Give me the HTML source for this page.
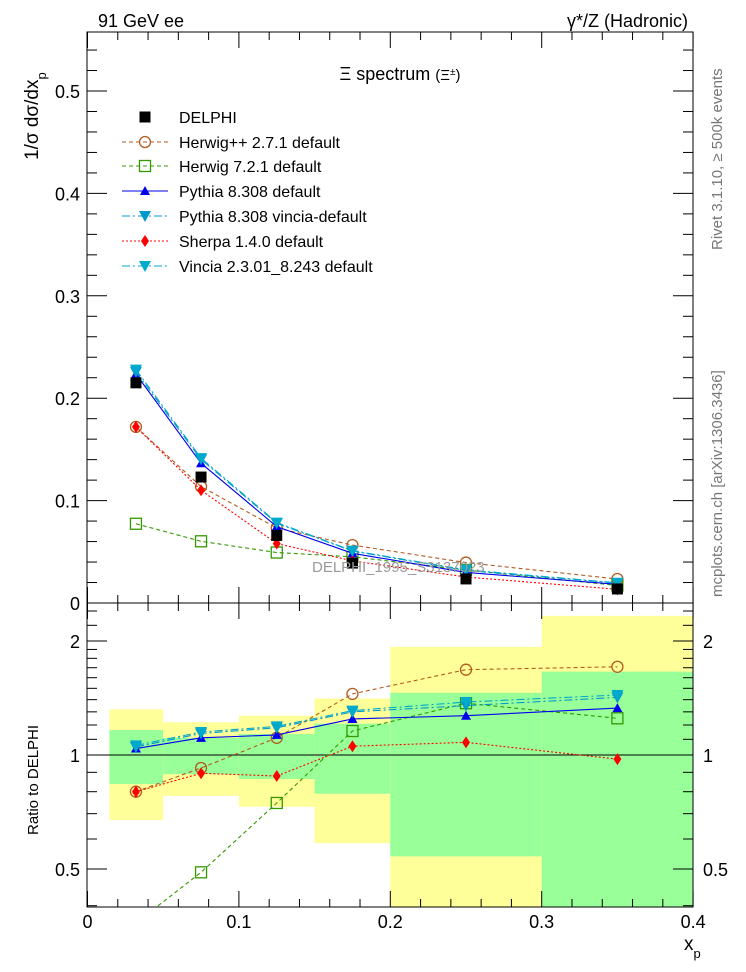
<!DOCTYPE html>
<html><head><meta charset="utf-8"><style>
html,body{margin:0;padding:0;background:#fff;}
svg{display:block;font-family:"Liberation Sans",sans-serif;}
</style></head><body>
<svg id="chart" width="746" height="972" viewBox="0 0 746 972" xmlns="http://www.w3.org/2000/svg">
<g id="bands"></g>
<g id="ratio"></g>
<g id="main"></g>
<g id="axes"></g>
<text x="98" y="27" font-size="18">91 GeV ee</text>
<text x="688" y="27" font-size="18" text-anchor="end">γ*/Z (Hadronic)</text>
<text x="400" y="80" font-size="18" text-anchor="middle">Ξ spectrum <tspan font-size="15">(Ξ<tspan baseline-shift="super" font-size="10">±</tspan>)</tspan></text>
<text transform="translate(38,160) rotate(-90)" font-size="19">1/σ dσ/dx<tspan baseline-shift="sub" font-size="13">p</tspan></text>
<text transform="translate(38,835) rotate(-90)" font-size="15">Ratio to DELPHI</text>
<text x="684" y="950" font-size="19">x<tspan baseline-shift="sub" font-size="13">p</tspan></text>
<text transform="translate(722,250) rotate(-90)" font-size="15" fill="#777">Rivet 3.1.10, ≥ 500k events</text>
<text transform="translate(722,597) rotate(-90)" font-size="15" fill="#777">mcplots.cern.ch [arXiv:1306.3436]</text>
<text x="312" y="572" font-size="15" fill="#999">DELPHI_1995_S3137023</text>
<g id="legend"></g>
</svg>
<script>
const xCenters=[0.032,0.075,0.125,0.175,0.25,0.35];
const binEdges=[0.0145,0.05,0.1,0.15,0.2,0.3,0.4];
const delphi=[0.215,0.123,0.066,0.039,0.0235,0.0137];
const bandGreenUp=[1.164,1.11,1.136,1.21,1.46,1.66];
const bandGreenDn=[0.838,0.89,0.864,0.79,0.54,0.3];
const bandYellowUp=[1.32,1.22,1.27,1.41,1.93,2.33];
const bandYellowDn=[0.673,0.78,0.73,0.585,0.3,0.3];
const rHerwigPP=[0.80,0.924,1.11,1.45,1.68,1.71];
const rHerwig7=[0.36,0.49,0.747,1.157,1.37,1.25];
const rPythia=[1.04,1.11,1.13,1.245,1.27,1.33];
const rPythiaVincia=[1.05,1.14,1.18,1.30,1.35,1.42];
const rSherpa=[0.80,0.895,0.88,1.055,1.08,0.975];
const rVincia=[1.06,1.15,1.19,1.31,1.38,1.44];
const xTicks=[0,0.1,0.2,0.3,0.4];
const yTicks=[0,0.1,0.2,0.3,0.4,0.5];
const rTicks=[0.5,1,2];

const NS="http://www.w3.org/2000/svg";
const X=v=>87.5+v*1514;
const Y=v=>603-v*1024;
const R=v=>755-114*Math.log2(v);
function mk(tag,attrs,parent){const e=document.createElementNS(NS,tag);for(const k in attrs)e.setAttribute(k,attrs[k]);parent.appendChild(e);return e;}
const gB=document.getElementById('bands'),gR=document.getElementById('ratio'),gM=document.getElementById('main'),gA=document.getElementById('axes'),gL=document.getElementById('legend');
// clip for ratio
const defs=mk('defs',{},document.getElementById('chart'));
const cp=mk('clipPath',{id:'rc'},defs);mk('rect',{x:87,y:603,width:606,height:304},cp);
const cm=mk('clipPath',{id:'mc'},defs);mk('rect',{x:87,y:32,width:606,height:571},cm);
gB.setAttribute('clip-path','url(#rc)');gR.setAttribute('clip-path','url(#rc)');gM.setAttribute('clip-path','url(#mc)');
for(let i=0;i<xCenters.length;i++){
  const x0=X(binEdges[i]),x1=X(binEdges[i+1]);
  const y=mk('rect',{x:x0,y:R(bandYellowUp[i]),width:x1-x0,height:R(bandYellowDn[i])-R(bandYellowUp[i]),fill:'#ffff99'},gB);
  
  
  const g=mk('rect',{x:x0,y:R(bandGreenUp[i]),width:x1-x0,height:R(bandGreenDn[i])-R(bandGreenUp[i]),fill:'#99ff99'},gB);
  
  
}
const l1=mk('line',{x1:87,x2:693,y1:R(1),y2:R(1),stroke:'#000','stroke-width':1},gR);



function marker(type,cx,cy,color,parent){
  let e;
  if(type==='sq')e=mk('rect',{x:cx-5.5,y:cy-5.5,width:11,height:11,fill:'#000'},parent);
  else if(type==='circ')e=mk('circle',{cx:cx,cy:cy,r:5.5,fill:'none',stroke:color,'stroke-width':1.3},parent);
  else if(type==='osq')e=mk('rect',{x:cx-5.5,y:cy-5.5,width:11,height:11,fill:'none',stroke:color,'stroke-width':1.3},parent);
  else if(type==='up')e=mk('polygon',{points:`${cx-5},${cy+4} ${cx+5},${cy+4} ${cx},${cy-5}`,fill:color},parent);
  else if(type==='down')e=mk('polygon',{points:`${cx-6},${cy-5} ${cx+6},${cy-5} ${cx},${cy+6}`,fill:color},parent);
  else if(type==='dia')e=mk('polygon',{points:`${cx},${cy-6} ${cx+4},${cy} ${cx},${cy+6} ${cx-4},${cy}`,fill:color},parent);
  return e;
}
const series=[
 {name:'herwigpp',label:'Herwig++ 2.7.1 default',r:rHerwigPP,color:'#b35a1f',dash:'4,3',m:'circ'},
 {name:'herwig7',label:'Herwig 7.2.1 default',r:rHerwig7,color:'#339900',dash:'4,3',m:'osq'},
 {name:'pythia',label:'Pythia 8.308 default',r:rPythia,color:'#0000ee',dash:'',m:'up'},
 {name:'pythia-vincia',label:'Pythia 8.308 vincia-default',r:rPythiaVincia,color:'#0099cc',dash:'8,3,2,3',m:'down'},
 {name:'sherpa',label:'Sherpa 1.4.0 default',r:rSherpa,color:'#ff0000',dash:'2,2',m:'dia'},
 {name:'vincia',label:'Vincia 2.3.01_8.243 default',r:rVincia,color:'#00aacc',dash:'8,3,2,3',m:'down'}
];
series.forEach(s=>{
  const mainPts=s.r.map((r,i)=>[X(xCenters[i]),Y(r*delphi[i])]);
  const ratPts=s.r.map((r,i)=>[X(xCenters[i]),R(r)]);
  [[mainPts,gM,'main'],[ratPts,gR,'ratio']].forEach(([pts,par,tag])=>{
    const pl=mk('polyline',{points:pts.map(p=>p.join(',')).join(' '),fill:'none',stroke:s.color,'stroke-width':1.1,'stroke-dasharray':s.dash},par);
    
    
    pts.forEach(p=>{const e=marker(s.m,p[0],p[1],s.color,par);
      
      });
  });
});
delphi.forEach((v,i)=>{const e=marker('sq',X(xCenters[i]),Y(v),'#000',gM);
  
  });

// frames
const f1=mk('rect',{x:87,y:32,width:606,height:571,fill:'none',stroke:'#000','stroke-width':1},gA);


const f2=mk('rect',{x:87,y:603,width:606,height:304,fill:'none',stroke:'#000','stroke-width':1},gA);


// x ticks
for(let k=0;k<=20;k++){
  const v=k*0.02,x=X(v),maj=(k%5===0);
  const L=maj?16:8;
  [[603,-1],[907,-1],[32,1],[603,1]].forEach(([y0,d])=>mk('line',{x1:x,x2:x,y1:y0,y2:y0+d*L,stroke:'#000'},gA));
}
xTicks.forEach(v=>{const t=mk('text',{x:X(v),y:928,'font-size':18,'text-anchor':'middle'},gA);t.textContent=String(v);
  
  });
// main y ticks
for(let k=0;k<=28;k++){
  const v=k*0.02,y=Y(v);if(y<32)break;const maj=(k%5===0);const L=maj?20:10;
  mk('line',{x1:87,x2:87+L,y1:y,y2:y,stroke:'#000'},gA);
  mk('line',{x1:693,x2:693-L,y1:y,y2:y,stroke:'#000'},gA);
}
yTicks.forEach(v=>{const t=mk('text',{x:80,y:Y(v)+7,'font-size':18,'text-anchor':'end'},gA);t.textContent=String(v);
  
  });
// ratio ticks
[0.4,0.5,0.6,0.7,0.8,0.9,1,1.1,1.2,1.3,1.4,1.5,1.6,1.7,1.8,1.9,2,2.2,2.4].forEach(v=>{
  const y=R(v);if(y<603||y>907)return;const maj=rTicks.includes(v);const L=maj?20:10;
  mk('line',{x1:87,x2:87+L,y1:y,y2:y,stroke:'#000'},gA);
  mk('line',{x1:693,x2:693-L,y1:y,y2:y,stroke:'#000'},gA);
});
rTicks.forEach(v=>{
  const t=mk('text',{x:80,y:R(v)+7,'font-size':18,'text-anchor':'end'},gA);t.textContent=String(v);
  
  
  const t2=mk('text',{x:703,y:R(v)+7,'font-size':18},gA);t2.textContent=String(v);
  
  
});
// legend
const legY=[117,142,166,191,216,241,266];
const le0=mk('g',{},gL);


marker('sq',145,legY[0],'#000',le0);
const lt0=mk('text',{x:179,y:legY[0]+6,'font-size':16},le0);lt0.textContent='DELPHI';
series.forEach((s,i)=>{
  const g=mk('g',{},gL);
  
  
  const y=legY[i+1];
  mk('line',{x1:122,x2:168,y1:y,y2:y,stroke:s.color,'stroke-width':1.1,'stroke-dasharray':s.dash},g);
  marker(s.m,145,y,s.color,g);
  const t=mk('text',{x:179,y:y+6,'font-size':16},g);t.textContent=s.label;
});
</script>
</body></html>
